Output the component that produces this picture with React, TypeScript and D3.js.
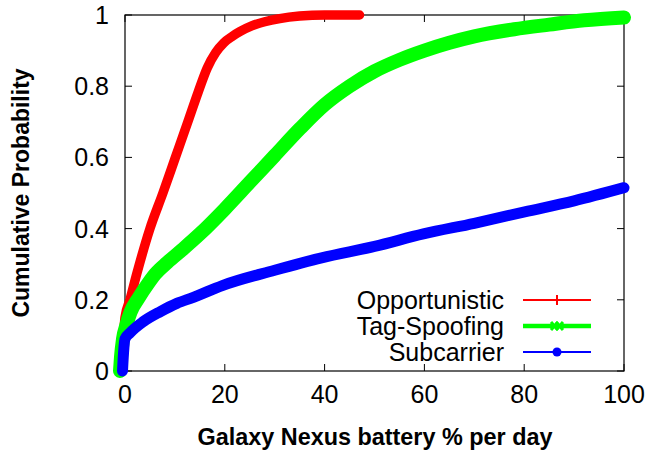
import React, { useEffect, useRef } from 'react';
import * as d3 from 'd3';

interface Pt {
  x: number;
  y: number;
}

// battery % per day vs cumulative probability
const opportunisticX = [-1, -0.7, -0.3, 0, 1, 2.4, 5, 7.6, 10.1, 12.6, 14.7, 16.5, 18.2, 19.8, 21.5, 23, 25.5, 28, 31, 35, 40, 47];
const opportunisticY = [0, 0.05, 0.1, 0.15, 0.2, 0.275, 0.4, 0.5, 0.6, 0.7, 0.785, 0.852, 0.895, 0.922, 0.94, 0.953, 0.97, 0.981, 0.99, 0.997, 1, 1];

const tagSpoofingX = [-1, -0.8, -0.4, 0.3, 1.1, 2.8, 4.5, 6.1, 8.5, 11.4, 15, 20, 25, 30, 35, 40, 45, 50, 55, 60, 65, 70, 78, 85, 92, 100];
const tagSpoofingY = [0, 0.04, 0.09, 0.13, 0.165, 0.207, 0.243, 0.273, 0.305, 0.34, 0.385, 0.455, 0.53, 0.605, 0.68, 0.748, 0.8, 0.842, 0.874, 0.9, 0.922, 0.94, 0.96, 0.973, 0.985, 0.993];

const subcarrierX = [-0.5, -0.3, 0, 1, 3.7, 7.1, 10.4, 13.7, 19.5, 30, 39.4, 50, 59.8, 70, 80.1, 90, 100];
const subcarrierY = [0, 0.05, 0.09, 0.107, 0.139, 0.167, 0.19, 0.207, 0.24, 0.283, 0.318, 0.35, 0.385, 0.415, 0.447, 0.478, 0.515];

const seriesNames = ['Opportunistic', 'Tag-Spoofing', 'Subcarrier'];
const seriesColors = ['#ff0000', '#00ff00', '#0000ff'];
const seriesWidths = [9.5, 14, 11];

const xTicks = [0, 20, 40, 60, 80, 100];
const yTicks = [0, 0.2, 0.4, 0.6, 0.8, 1];

const toPoints = (xs: number[], ys: number[]): Pt[] => xs.map((x, i) => ({ x, y: ys[i] }));

const App: React.FC = () => {
  const svgRef = useRef<SVGSVGElement>(null);

  useEffect(() => {
    if (!svgRef.current) return;
    const svg = d3.select(svgRef.current);
    svg.selectAll('*').remove();

    const font = '"Liberation Sans", Arial, Helvetica, sans-serif';
    const left = 125, right = 624, top = 15, bottom = 371;

    const xScale = d3.scaleLinear().domain([0, 100]).range([left, right]);
    const yScale = d3.scaleLinear().domain([0, 1]).range([bottom, top]);

    const line = d3.line<Pt>()
      .x(d => xScale(d.x))
      .y(d => yScale(d.y))
      .curve(d3.curveMonotoneX);

    const series = [
      toPoints(opportunisticX, opportunisticY),
      toPoints(tagSpoofingX, tagSpoofingY),
      toPoints(subcarrierX, subcarrierY),
    ];

    // frame
    svg.append('rect')
      .attr('x', left)
      .attr('y', top)
      .attr('width', right - left)
      .attr('height', bottom - top)
      .attr('fill', 'none')
      .attr('stroke', '#000')
      .attr('stroke-width', 1.2);

    // ticks, mirrored on all four sides
    const tickLen = 7;
    xTicks.forEach(t => {
      const x = xScale(t);
      svg.append('line').attr('x1', x).attr('x2', x).attr('y1', bottom).attr('y2', bottom - tickLen).attr('stroke', '#000');
      svg.append('line').attr('x1', x).attr('x2', x).attr('y1', top).attr('y2', top + tickLen).attr('stroke', '#000');
      svg.append('text')
        .attr('x', x)
        .attr('y', 403)
        .attr('text-anchor', 'middle')
        .attr('font-family', font)
        .attr('font-size', 25)
        .text(t);
    });
    yTicks.forEach(t => {
      const y = yScale(t);
      svg.append('line').attr('x1', left).attr('x2', left + tickLen).attr('y1', y).attr('y2', y).attr('stroke', '#000');
      svg.append('line').attr('x1', right).attr('x2', right - tickLen).attr('y1', y).attr('y2', y).attr('stroke', '#000');
      svg.append('text')
        .attr('x', 109)
        .attr('y', y + 9)
        .attr('text-anchor', 'end')
        .attr('font-family', font)
        .attr('font-size', 25)
        .text(t);
    });

    // axis titles
    svg.append('text')
      .attr('x', 375)
      .attr('y', 445)
      .attr('text-anchor', 'middle')
      .attr('font-family', font)
      .attr('font-weight', 'bold')
      .attr('font-size', 23.4)
      .text('Galaxy Nexus battery % per day');

    svg.append('text')
      .attr('transform', 'translate(29,193) rotate(-90)')
      .attr('text-anchor', 'middle')
      .attr('font-family', font)
      .attr('font-weight', 'bold')
      .attr('font-size', 23)
      .text('Cumulative Probability');

    // curves
    series.forEach((pts, i) => {
      svg.append('path')
        .datum(pts)
        .attr('d', line)
        .attr('fill', 'none')
        .attr('stroke', seriesColors[i])
        .attr('stroke-width', seriesWidths[i])
        .attr('stroke-linecap', 'round')
        .attr('stroke-linejoin', 'round');
    });

    // legend
    const legendRows = [300, 326, 352];
    const lineWidths = [2, 4.5, 2];
    seriesNames.forEach((name, i) => {
      const y = legendRows[i];
      svg.append('text')
        .attr('x', 504)
        .attr('y', y + 8.5)
        .attr('text-anchor', 'end')
        .attr('font-family', font)
        .attr('font-size', 25)
        .text(name);
      svg.append('line')
        .attr('x1', 523)
        .attr('x2', 591)
        .attr('y1', y)
        .attr('y2', y)
        .attr('stroke', seriesColors[i])
        .attr('stroke-width', lineWidths[i]);
      const cx = 557;
      if (i === 0) {
        svg.append('path')
          .attr('d', `M${cx - 4},${y}H${cx + 4}M${cx},${y - 5}V${y + 5}`)
          .attr('stroke', seriesColors[i])
          .attr('stroke-width', 2);
      } else if (i === 1) {
        [cx - 2.5, cx + 2.5].forEach(mx => {
          svg.append('path')
            .attr('d', `M${mx - 3.5},${y - 4}L${mx + 3.5},${y + 4}M${mx - 3.5},${y + 4}L${mx + 3.5},${y - 4}`)
            .attr('stroke', seriesColors[i])
            .attr('stroke-width', 3);
        });
      } else {
        svg.append('circle')
          .attr('cx', cx)
          .attr('cy', y)
          .attr('r', 4.5)
          .attr('fill', seriesColors[i]);
      }
    });
  }, []);

  return (
    <svg ref={svgRef} width={648} height={451} style={{ position: 'absolute', left: 0, top: 0 }} />
  );
};

export default App;
